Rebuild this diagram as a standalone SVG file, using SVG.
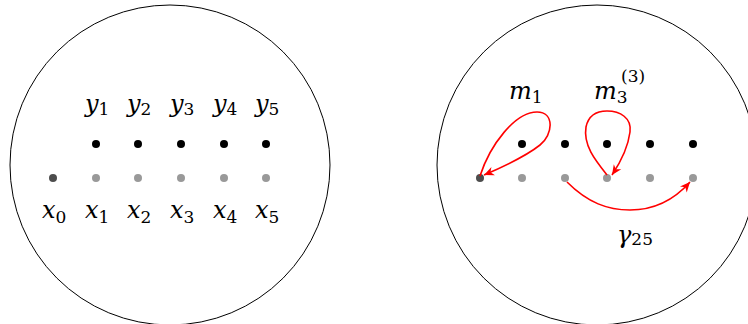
<svg xmlns="http://www.w3.org/2000/svg" width="748" height="324" viewBox="0 0 748 324">
<style>
.disk{fill:none;stroke:#000;stroke-width:1}
.y{fill:#000}
.x{fill:#999}
.x0{fill:#4d4d4d}
.lbl{font-family:"DejaVu Serif",serif;font-size:24px;font-style:italic;fill:#000}
.sub{font-style:normal;font-size:17px}
.arc{fill:none;stroke:#ff0000;stroke-width:1.6}
</style>
<defs>
<marker id="ah" viewBox="-11 -5 12 10" markerWidth="12" markerHeight="10" refX="0" refY="0" orient="auto" markerUnits="userSpaceOnUse">
<path d="M0,0 L-10,-4.5 L-7,0 L-10,4.5 Z" fill="#ff0000"/>
</marker>
</defs>
<rect width="748" height="324" fill="#fff"/>
<g id="left-disk">
<circle class="disk" cx="170" cy="165" r="160"/>
</g>
<g id="left-points">
<circle class="x0" cx="53" cy="178" r="4"/>
<circle class="x" cx="96" cy="178" r="4"/>
<circle class="x" cx="138" cy="178" r="4"/>
<circle class="x" cx="181" cy="178" r="4"/>
<circle class="x" cx="224" cy="178" r="4"/>
<circle class="x" cx="266" cy="178" r="4"/>
<circle class="y" cx="96" cy="144" r="4"/>
<circle class="y" cx="138" cy="144" r="4"/>
<circle class="y" cx="181" cy="144" r="4"/>
<circle class="y" cx="224" cy="144" r="4"/>
<circle class="y" cx="266" cy="144" r="4"/>
</g>
<g id="left-labels">
<text class="lbl" x="42" y="218">x<tspan class="sub" dy="5">0</tspan></text>
<text class="lbl" x="85" y="218">x<tspan class="sub" dy="5">1</tspan></text>
<text class="lbl" x="127" y="218">x<tspan class="sub" dy="5">2</tspan></text>
<text class="lbl" x="170" y="218">x<tspan class="sub" dy="5">3</tspan></text>
<text class="lbl" x="213" y="218">x<tspan class="sub" dy="5">4</tspan></text>
<text class="lbl" x="255" y="218">x<tspan class="sub" dy="5">5</tspan></text>
<text class="lbl" x="85" y="112">y<tspan class="sub" dy="3">1</tspan></text>
<text class="lbl" x="127" y="112">y<tspan class="sub" dy="3">2</tspan></text>
<text class="lbl" x="170" y="112">y<tspan class="sub" dy="3">3</tspan></text>
<text class="lbl" x="213" y="112">y<tspan class="sub" dy="3">4</tspan></text>
<text class="lbl" x="255" y="112">y<tspan class="sub" dy="3">5</tspan></text>
</g>
<g id="right-disk">
<circle class="disk" cx="597" cy="165" r="160"/>
</g>
<g id="right-points">
<circle class="x0" cx="480" cy="178" r="4"/>
<circle class="x" cx="522" cy="178" r="4"/>
<circle class="x" cx="565" cy="178" r="4"/>
<circle class="x" cx="607" cy="178" r="4"/>
<circle class="x" cx="650" cy="178" r="4"/>
<circle class="x" cx="693" cy="178" r="4"/>
<circle class="y" cx="522" cy="144" r="4"/>
<circle class="y" cx="565" cy="144" r="4"/>
<circle class="y" cx="607" cy="144" r="4"/>
<circle class="y" cx="650" cy="144" r="4"/>
<circle class="y" cx="693" cy="144" r="4"/>
</g>
<g id="connectors">
<path class="arc" marker-end="url(#ah)" d="M480,176 C490,145 515,112 537,112 C555,112 553,135 540,145 C525,157 505,166 484,175"/>
<path class="arc" marker-end="url(#ah)" d="M607,175 C595,160 583,145 586,127 C589,113 600,111 607,111 C620,111 632,118 630,132 C628,148 620,163 612,175"/>
<path class="arc" marker-end="url(#ah)" d="M567,182 C588,203 608,210 630,210 C654,210 674,200 690,182"/>
</g>
<g id="right-labels">
<text class="lbl" x="509" y="99">m<tspan class="sub" dy="4">1</tspan></text>
<text class="lbl" x="594" y="99">m<tspan class="sub" dy="4">3</tspan><tspan class="sub" x="621" y="82">(3)</tspan></text>
<text class="lbl" x="617" y="243">γ<tspan class="sub" dy="2">25</tspan></text>
</g>
</svg>
